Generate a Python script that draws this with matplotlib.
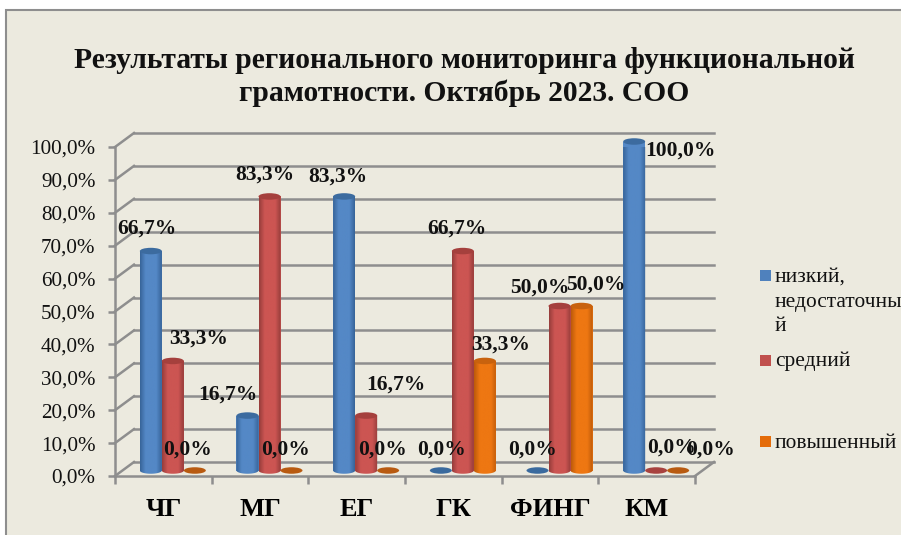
import numpy as np
import matplotlib
matplotlib.use('Agg')
import matplotlib.pyplot as plt
from matplotlib.patches import Ellipse, Rectangle, PathPatch
from matplotlib.path import Path
from matplotlib.colors import LinearSegmentedColormap

plt.rcParams['font.family'] = ['Liberation Serif', 'DejaVu Serif']

# data
categories = ['ЧГ', 'МГ', 'ЕГ', 'ГК', 'ФИНГ', 'КМ']
low = [66.7, 16.7, 83.3, 0.0, 0.0, 100.0]
mid = [33.3, 83.3, 16.7, 66.7, 50.0, 0.0]
high = [0.0, 0.0, 0.0, 33.3, 50.0, 0.0]
series_names = ['низкий,\nнедостаточны\nй', 'средний', 'повышенный']
title = 'Результаты регионального мониторинга функциональной\nграмотности. Октябрь 2023. СОО'
yticks = [0, 10, 20, 30, 40, 50, 60, 70, 80, 90, 100]

# hand placed data labels, pixels from the top of each bar
low_off = [(-4, 22), (-20, 21), (-6, 20), (1, 21), (-5, 21), (46, -9)]
mid_off = [(26, 22), (-5, 22), (30, 31), (-6, 22), (-20, 18), (15, 23)]
high_off = [(-7, 21), (-6, 21), (-6, 21), (16, 16), (14, 21), (32, 21)]

W, H = 901, 535
grey = '#8E8E8E'
panel = '#ECEADF'
shades = [('#376499', '#5488C6', '#3C6B9F', '#3A6A9E'),
          ('#963D3B', '#CC5552', '#A5403D', '#A8423F'),
          ('#BC5A0A', '#EE7712', '#C8620E', '#B85A10')]

fig = plt.figure(figsize=(W / 100, H / 100), dpi=100, facecolor='white')
fig.add_artist(Rectangle((6 / W, -0.02), 1, 1.02 - 10 / H, transform=fig.transFigure,
                         facecolor=panel, edgecolor=grey, lw=1.5, zorder=-1))

ax = fig.add_axes([115 / W, (H - 476) / H, 580 / W, 329 / H])
ax.patch.set_alpha(0)
ax.set_xlim(0, 6)
ax.set_ylim(0, 100)

px_x = 6 / 580       # data units per pixel
px_y = 100 / 329
depth_x = 19 * px_x
depth_y = 14 * px_y
floor = 5.5 * px_y
bar_w = 22 * px_x
shift = 9.5 * px_x
cap_h = 6.5 * px_y

# walls and floor
for v in yticks:
    ax.plot([0, depth_x], [v, v + depth_y], color=grey, lw=1.8, clip_on=False, zorder=1)
    ax.plot([depth_x, 6 + depth_x], [v + depth_y, v + depth_y], color=grey, lw=1.8,
            clip_on=False, zorder=1)
ax.plot([6, 6 + depth_x], [0, depth_y], color=grey, lw=1.8, clip_on=False, zorder=1)

ax.set_yticks(yticks)
ax.yaxis.set_tick_params(labelsize=15.2, color=grey, width=1.8, length=5, pad=9,
                         labelcolor='#111111')
ax.set_xticks(np.arange(7))
ax.set_xticklabels([])
ax.tick_params(axis='x', color=grey, width=1.8, length=6)
ax.set_xticks(np.arange(6) + 0.5, minor=True)
ax.set_xticklabels(categories, minor=True, fontsize=19, fontweight='bold')
ax.tick_params(axis='x', which='minor', length=0, pad=16)
for s in ['top', 'right']:
    ax.spines[s].set_visible(False)
for s in ['left', 'bottom']:
    ax.spines[s].set_color(grey)
    ax.spines[s].set_linewidth(1.8)


def cylinder(x, v, shade):
    edge, light, cap, flat = shade
    if v == 0:
        ax.add_patch(Ellipse((x, floor), bar_w, cap_h, facecolor=flat, edgecolor='none', zorder=4))
        return
    bar = ax.bar(x, v, bar_w, bottom=floor, color=light, zorder=3, clip_on=False)[0]
    left = x - bar_w / 2
    t = np.linspace(np.pi, 2 * np.pi, 30)
    verts = [(left, floor + v)] + [(x + np.cos(a) * bar_w / 2, floor + np.sin(a) * cap_h / 2) for a in t]
    verts += [(left + bar_w, floor + v), (left, floor + v)]
    clip = PathPatch(Path(verts), transform=ax.transData, facecolor='none', edgecolor='none')
    ax.add_patch(clip)
    cmap = LinearSegmentedColormap.from_list('c', [edge, light, light, light, edge])
    grad = np.linspace(0, 1, 64)[None, :]
    im = ax.imshow(grad, cmap=cmap, extent=[left, left + bar_w, floor - cap_h, floor + v],
                   aspect='auto', zorder=bar.get_zorder() + 1)
    im.set_clip_path(clip)
    ax.add_patch(Ellipse((x, floor + v), bar_w, cap_h, facecolor=cap, edgecolor='none',
                         zorder=bar.get_zorder() + 2, clip_on=False))


offsets = [-22 * px_x, 0, 22 * px_x]
for vals, off, label_off, shade in zip([low, mid, high], offsets,
                                       [low_off, mid_off, high_off], shades):
    for i, v in enumerate(vals):
        x = i + 0.5 + shift + off
        cylinder(x, v, shade)
        ax.annotate(('%.1f%%' % v).replace('.', ','), (x, floor + v), xytext=label_off[i],
                    textcoords='offset pixels', ha='center', va='center', fontsize=15.5,
                    fontweight='bold', color='#111111', zorder=10, annotation_clip=False)
ax.set_yticklabels([('%.1f%%' % v).replace('.', ',') for v in yticks])
ax.set_xlim(0, 6)
ax.set_ylim(0, 100)

fig.text(464 / W, 1 - 77 / H, title, ha='center', va='center', fontsize=21.3,
         fontweight='bold', color='#111111', linespacing=1.27)

# legend is spaced unevenly in the original, so it is placed by hand
legend_colors = ['#4F81BD', '#C0504D', '#E46C0A']
legend_y = [275, 360, 441]
text_y = [302, 361, 443]
for name, col, ly, ty in zip(series_names, legend_colors, legend_y, text_y):
    fig.add_artist(Rectangle((760 / W, 1 - (ly + 5.5) / H), 11 / W, 11 / H,
                             transform=fig.transFigure, facecolor=col, edgecolor='none'))
    fig.text(775 / W, 1 - ty / H, name, ha='left', va='center', fontsize=15.4,
             color='#111111', linespacing=1.42)

fig.savefig('out.png', dpi=100, facecolor='white')
